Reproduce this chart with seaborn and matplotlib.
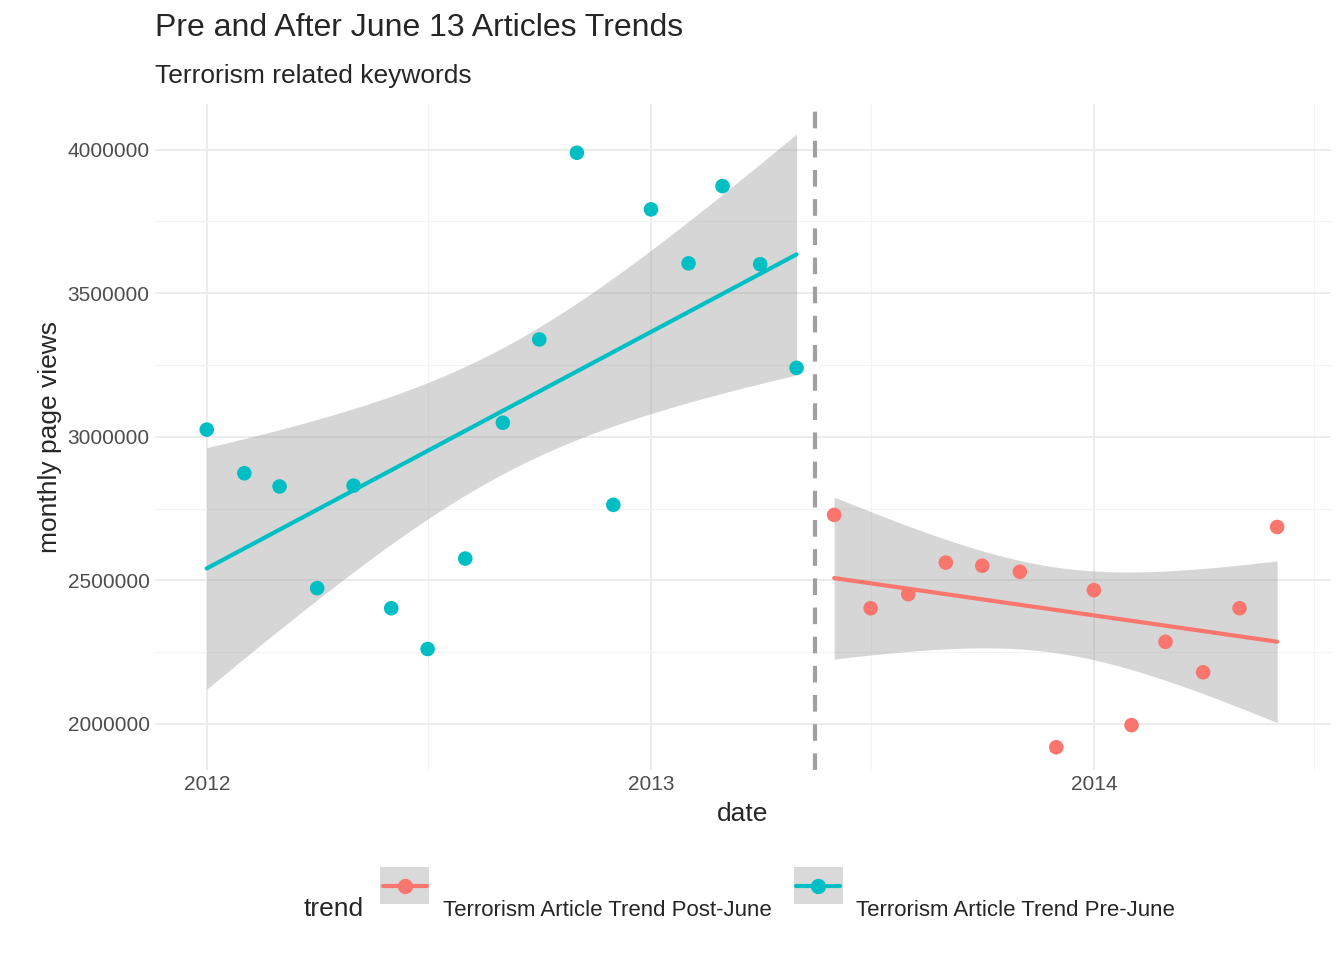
import matplotlib
matplotlib.use("Agg")
import matplotlib.pyplot as plt
import matplotlib.dates as mdates
from matplotlib.lines import Line2D
from matplotlib.patches import Rectangle
from matplotlib.offsetbox import HPacker
import seaborn as sns
import pandas as pd
import numpy as np

pre_dates = pd.date_range("2012-01-01", "2013-05-01", freq="MS")
pre_views = [3025000, 2873000, 2827000, 2473000, 2830000, 2403000, 2261000, 2576000,
             3049000, 3339000, 3989000, 2763000, 3792000, 3604000, 3873000, 3601000, 3240000]
post_dates = pd.date_range("2013-06-01", "2014-06-01", freq="MS")
post_views = [2728000, 2403000, 2452000, 2562000, 2551000, 2530000, 1919000, 2466000,
              1996000, 2286000, 2180000, 2403000, 2686000]
cut_date = pd.Timestamp("2013-05-16")
c_post, c_pre = "#F8766D", "#00BFC4"
T975 = {15: 2.131, 11: 2.201}

sns.set_theme(style="whitegrid")
plt.rcParams['font.family'] = ['Liberation Sans', 'DejaVu Sans']

fig = plt.figure(figsize=(13.44, 9.6), dpi=100)
ax = fig.add_axes([0.115, 0.198, 0.875, 0.694])
ax.set_facecolor("white")

for d, v, c in [(pre_dates, pre_views, c_pre), (post_dates, post_views, c_post)]:
    x = mdates.date2num(d)
    y = np.array(v, dtype=float)
    # analytic 95% confidence band (like ggplot's geom_smooth)
    n = len(x)
    b1, b0 = np.polyfit(x, y, 1)
    resid = y - (b0 + b1 * x)
    s = np.sqrt((resid ** 2).sum() / (n - 2))
    xs = np.linspace(x.min(), x.max(), 100)
    se = s * np.sqrt(1 / n + (xs - x.mean()) ** 2 / ((x - x.mean()) ** 2).sum())
    fit = b0 + b1 * xs
    t = T975[n - 2]
    ax.fill_between(xs, fit - t * se, fit + t * se, color="#999999", alpha=0.4, lw=0, zorder=1)
    sns.regplot(x=x, y=y, ax=ax, color=c, ci=None,
                scatter_kws=dict(s=110, alpha=1, zorder=3, edgecolor="none"),
                line_kws=dict(lw=3, zorder=4))

ax.axvline(mdates.date2num(cut_date), color="#A0A0A0", lw=3, ls=(0, (4, 3)), zorder=2)

ax.set_xlim(mdates.date2num(pd.Timestamp("2011-11-19")), mdates.date2num(pd.Timestamp("2014-07-15")))
ax.set_ylim(1840000, 4160000)
ax.xaxis.set_major_locator(mdates.YearLocator())
ax.xaxis.set_major_formatter(mdates.DateFormatter("%Y"))
ax.xaxis.set_minor_locator(mdates.MonthLocator(bymonth=7))
yt = [2000000, 2500000, 3000000, 3500000, 4000000]
ax.set_yticks(yt)
ax.yaxis.set_minor_locator(matplotlib.ticker.FixedLocator([2250000, 2750000, 3250000, 3750000]))
ax.set_yticklabels([str(t) for t in yt])
ax.grid(which="major", color="#EBEBEB", lw=1.3)
ax.grid(which="minor", color="#F3F3F3", lw=0.8)
for sp in ax.spines.values():
    sp.set_visible(False)
ax.tick_params(axis="both", labelsize=15, colors="#4D4D4D", length=0)
ax.set_xlabel("date", fontsize=19, labelpad=6)
ax.set_ylabel("monthly page views", fontsize=19)

fig.text(0.115, 0.955, "Pre and After June 13 Articles Trends", fontsize=23, va="bottom")
fig.text(0.115, 0.908, "Terrorism related keywords", fontsize=19, va="bottom")

class KeyHandler:
    def __init__(self, color):
        self.color = color
    def legend_artist(self, legend, orig_handle, fontsize, handlebox):
        x0, y0 = handlebox.xdescent, handlebox.ydescent
        w, h = handlebox.width, handlebox.height
        r = Rectangle((x0, y0), w, h, facecolor="#D9D9D9", edgecolor="none",
                      transform=handlebox.get_transform())
        ln = Line2D([x0 + 2, x0 + w - 2], [y0 + h / 2] * 2, color=self.color, lw=3,
                    transform=handlebox.get_transform())
        mk = Line2D([x0 + w / 2], [y0 + h / 2], color=self.color, marker="o", ms=10,
                    ls="none", transform=handlebox.get_transform())
        for a in (r, ln, mk):
            handlebox.add_artist(a)
        return r

h1 = Rectangle((0, 0), 1, 1)
h2 = Rectangle((0, 0), 1, 1)
leg = fig.legend([h1, h2], ["Terrorism Article Trend Post-June", "Terrorism Article Trend Pre-June"],
                 handler_map={h1: KeyHandler(c_post), h2: KeyHandler(c_pre)},
                 loc="center", bbox_to_anchor=(0.55, 0.053), ncol=2, frameon=False,
                 fontsize=16, title="trend", title_fontsize=19, handlelength=2.2, handleheight=2.2,
                 columnspacing=1.0, handletextpad=0.6)
box = leg._legend_box
box.__class__ = HPacker
box.sep = 12
box.align = "center"

fig.savefig("out.png", dpi=100, facecolor="white")
